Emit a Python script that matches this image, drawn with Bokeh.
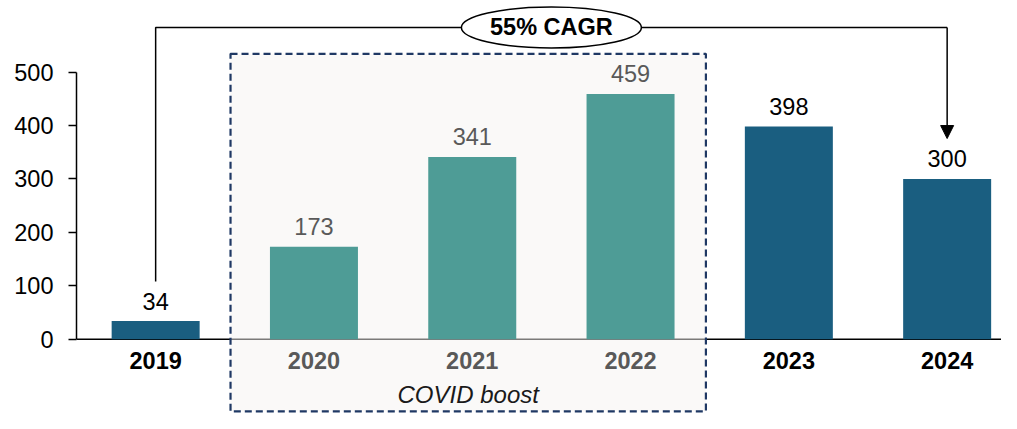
from bokeh.plotting import figure
from bokeh.models import Range1d, FixedTicker, Span, BoxAnnotation, Arrow, NormalHead, ColumnDataSource
from bokeh.core.properties import value
from bokeh.embed import file_html
from bokeh.resources import INLINE

# ---- data ----
years = ["2019", "2020", "2021", "2022", "2023", "2024"]
revenue = [34, 173, 341, 459, 398, 300]
covid_years = ["2020", "2021", "2022"]
y_ticks = [0, 100, 200, 300, 400, 500]
cagr_label = "55% CAGR"
box_label = "COVID boost"

# ---- styles ----
DARK = "#1a5e80"
TEAL = "#4e9c96"
GRAY_TXT = "#595959"
FONT = "Liberation Sans"
FS = "23.5px"

W, H = 1001, 413
LEFT = 76
STEP = 158.3
xs = [i + 0.5 for i in range(len(years))]
is_covid = [y in covid_years for y in years]
bar_colors = [TEAL if c else DARK for c in is_covid]
txt_colors = [GRAY_TXT if c else "#000000" for c in is_covid]

p = figure(width=W, height=H, output_backend="svg", toolbar_location=None,
           x_axis_type=None, min_border=0, min_border_left=LEFT,
           x_range=Range1d(0, (W - LEFT) / STEP), y_range=Range1d(-139, 633.8))
p.outline_line_color = None
p.grid.visible = False
p.background_fill_color = "white"
p.border_fill_color = "white"

# y axis
ya = p.yaxis[0]
ya.bounds = (0, 500)
ya.ticker = FixedTicker(ticks=y_ticks)
ya.minor_tick_line_color = None
ya.major_tick_in = 0
ya.major_tick_out = 8
ya.major_tick_line_width = 1.5
ya.axis_line_width = 1.5
ya.axis_line_color = "black"
ya.major_tick_line_color = "black"
ya.major_label_text_font = FONT
ya.major_label_text_font_size = FS
ya.major_label_text_color = "black"
ya.major_label_standoff = 15

# baseline (x axis line)
p.add_layout(Span(location=0, dimension="width", line_color="black",
                  line_width=1.5, level="image"))

# COVID box
box_left = 1 - 0.027
box_right = 4 - 0.024
p.add_layout(BoxAnnotation(left=box_left, right=box_right, top=534, bottom=-135,
                           fill_color="#f5f3f1", fill_alpha=0.5,
                           line_color="#1f3864", line_alpha=1.0, line_width=2.2,
                           line_dash="7 4", level="underlay"))

src = ColumnDataSource(dict(x=xs, top=revenue, year=years, lab=[str(v) for v in revenue],
                            bc=bar_colors, tc=txt_colors))

p.vbar(x="x", top="top", width=88 / STEP, fill_color="bc", line_color=None, source=src)

# value labels
p.text(x="x", y="top", text="lab", text_color="tc", text_align="center",
       text_baseline="middle", y_offset=-20, text_font=value(FONT),
       text_font_size=FS, source=src)

# category labels
p.text(x="x", y=0, text="year", text_color="tc", text_align="center",
       text_baseline="middle", y_offset=21, text_font=value(FONT),
       text_font_size=FS, text_font_style="bold", source=src)

# COVID boost label
p.text(x=[(box_left + box_right) / 2], y=[0], text=[box_label], text_color="#1a1a1a",
       text_align="center", text_baseline="middle", y_offset=55,
       text_font=value(FONT), text_font_size="24px", text_font_style="italic")

# CAGR bracket
y_top = 583.3
x0, x1 = xs[0], xs[-1]
p.line(x=[x0, x0, x1], y=[revenue[0] + 74, y_top, y_top], line_color="black", line_width=1.5)
p.add_layout(Arrow(x_start=x1, y_start=y_top, x_end=x1, y_end=revenue[-1] + 75.5,
                   line_color="black", line_width=1.5,
                   end=NormalHead(size=13, fill_color="black", line_color="black", line_width=1)))
xm = (x0 + x1) / 2
p.ellipse(x=[xm], y=[y_top], width=180, height=41, width_units="screen",
          height_units="screen", fill_color="white", line_color="black", line_width=1.5)
p.text(x=[xm], y=[y_top], text=[cagr_label], text_align="center", text_baseline="middle",
       text_font=value(FONT), text_font_size=FS, text_font_style="bold", text_color="black")

open("out.html", "w").write(file_html(p, INLINE))
